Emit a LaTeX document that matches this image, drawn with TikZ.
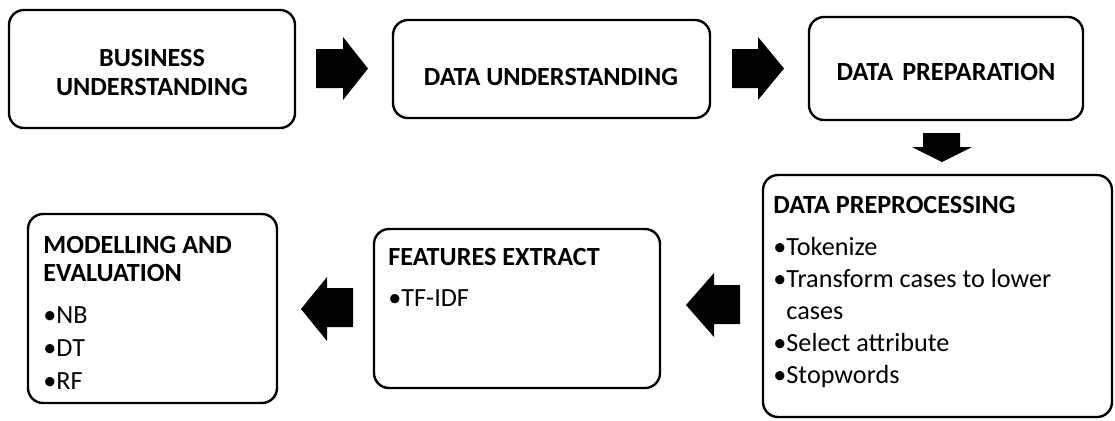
\documentclass[tikz,border=0pt]{standalone}
\usepackage{fontspec}
\setmainfont{Carlito}
\usepackage{tikz}
\usetikzlibrary{positioning,calc}
\tikzstyle{stage}      = [draw, line width=1.2pt, rounded corners=7.5pt, fill=white, inner sep=0pt]
\tikzstyle{stageText}  = [inner sep=0pt, font=\fontsize{13.1}{16}\selectfont]
\tikzstyle{blockArrow} = [fill=black]
\tikzset{
  every node/.style={transform shape},
  x=0.5pt, y=-0.5pt
}
\begin{document}
\begin{tikzpicture}
			\useasboundingbox (0,0) rectangle (1115,420);
			% top row
			\node[stage, minimum width=143pt, minimum height=59pt]   (business) at (152,69)    {};
			\node[stage, minimum width=158.5pt, minimum height=49pt] (dataUnd)  at (551.5,69)  {};
			\node[stage, minimum width=137pt, minimum height=51.5pt] (dataPrep) at (946,68.5)  {};
			% bottom row
			\node[stage, minimum width=174.5pt, minimum height=121pt] (preproc)  at (937.5,296) {};
			\node[stage, minimum width=143pt, minimum height=79.5pt]  (features) at (517,308.5)  {};
			\node[stage, minimum width=124.5pt, minimum height=94.5pt] (modelling) at (152.5,308.5) {};
			% texts
			\node[stageText, align=center] (businessTxt) at (152,72) {\textbf{BUSINESS}\\[-1.5pt]\textbf{UNDERSTANDING}};
			\node[stageText, anchor=base] (dataUndTxt)  at (551,85) {\textbf{DATA UNDERSTANDING}};
			\node[stageText, anchor=base] (dataPrepTxt) at (946,80) {\textbf{DATA\hspace{0.35em}PREPARATION}};
			\node[stageText, align=left, anchor=north west] (preprocTxt) at (773,196)
				{\textbf{DATA PREPROCESSING}\\[5pt]
				 •Tokenize\\
				 •Transform cases to lower\\
				 \phantom{•}cases\\
				 •Select attribute\\
				 •Stopwords};
			\node[stageText, align=left, anchor=north west] (featuresTxt) at (388,248)
				{\textbf{FEATURES EXTRACT}\\[4.5pt]
				 •TF-IDF};
			\node[stageText, align=left, anchor=north west] (modellingTxt) at (43,236)
				{\textbf{MODELLING AND}\\[-2pt]
				 \textbf{EVALUATION}\\[5pt]
				 •NB\\[0.5pt]
				 •DT\\[0.5pt]
				 •RF};
			% block arrows
			\fill[blockArrow] (316,49) -- (343,49) -- (343,37) -- (368,68.5) -- (343,100) -- (343,88) -- (316,88) -- cycle;
			\fill[blockArrow] (732,49) -- (758,49) -- (758,37) -- (784,68.5) -- (758,100) -- (758,88) -- (732,88) -- cycle;
			\fill[blockArrow] (923,133) -- (960,133) -- (960,147) -- (972,147) -- (942,162) -- (912,147) -- (923,147) -- cycle;
			\fill[blockArrow] (740,285) -- (714,285) -- (714,273) -- (686,305) -- (714,337) -- (714,324) -- (740,324) -- cycle;
			\fill[blockArrow] (353,288) -- (327,288) -- (327,277) -- (301,309) -- (327,341) -- (327,327) -- (353,327) -- cycle;
		\end{tikzpicture}
\end{document}
